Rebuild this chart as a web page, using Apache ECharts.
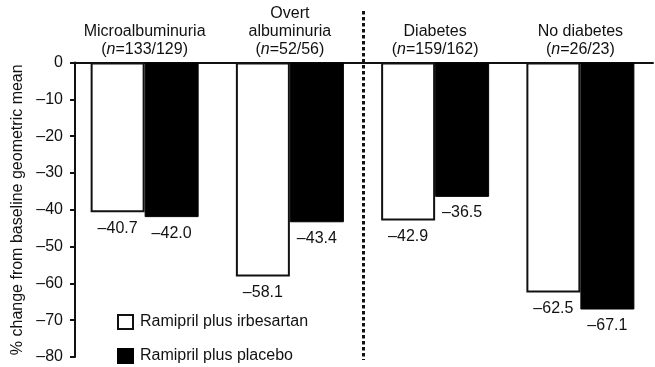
<!DOCTYPE html>
<html><head><meta charset="utf-8">
<script src="https://cdn.jsdelivr.net/npm/echarts@6/dist/echarts.min.js"></script>
<style>html,body{margin:0;padding:0;background:#fff}#c{width:655px;height:367px}</style>
</head><body><div id="c"></div>
<script>
const categories = ['Microalbuminuria', 'Overt\nalbuminuria', 'Diabetes', 'No diabetes'];
const nCounts = ['133/129', '52/56', '159/162', '26/23'];
const irbesartan = [-40.7, -58.1, -42.9, -62.5];
const placebo = [-42.0, -43.4, -36.5, -67.1];
const seriesNames = ['Ramipril plus irbesartan', 'Ramipril plus placebo'];
const yAxisName = '% change from baseline geometric mean';
const yMin = -80, yMax = 0, yInterval = 10;

const FONT = '"Liberation Sans", Arial, sans-serif';
const FS = 16;
const dash = v => String(v).replace('-', '\u2013');
const fmtVal = v => dash(v.toFixed(1));

const chart = echarts.init(document.getElementById('c'));
const labelCommon = {
  show: true, position: 'bottom', distance: 8,
  fontFamily: FONT, fontSize: FS, color: '#111',
  formatter: p => fmtVal(p.value)
};
const legendCommon = {
  orient: 'vertical', left: 117, padding: 0, itemWidth: 15, itemHeight: 14, icon: 'rect', itemGap: 8,
  textStyle: { fontFamily: FONT, fontSize: FS, color: '#111', padding: [0, 0, 0, 2] }
};
chart.setOption({
  animation: false,
  textStyle: { fontFamily: FONT },
  grid: { left: 72, right: 2, top: 62.5, bottom: 10 },
  legend: [
    Object.assign({}, legendCommon, { top: 314, data: [seriesNames[0]] }),
    Object.assign({}, legendCommon, { top: 348, data: [seriesNames[1]] })
  ],
  xAxis: {
    type: 'category', position: 'top', data: categories,
    axisLine: { lineStyle: { color: '#111', width: 2 } },
    axisTick: { show: false },
    axisLabel: {
      margin: 4, interval: 0, color: '#111',
      formatter: (v, i) => {
        const lines = v.split('\n').map(s => '{t|' + s + '}').join('\n');
        return lines + '\n{t|(}{i|n}{t|=' + nCounts[i] + ')}';
      },
      rich: {
        t: { fontFamily: FONT, fontSize: FS, lineHeight: 18, color: '#111' },
        i: { fontFamily: FONT, fontSize: FS, lineHeight: 18, fontStyle: 'italic', color: '#111' }
      }
    }
  },
  yAxis: {
    type: 'value', min: yMin, max: yMax, interval: yInterval, offset: -3,
    name: yAxisName, nameLocation: 'middle', nameGap: 40,
    nameTextStyle: { fontFamily: FONT, fontSize: FS, color: '#111' },
    axisLine: { show: true, lineStyle: { color: '#111', width: 2 } },
    axisTick: { show: true, length: 5, lineStyle: { color: '#111', width: 2 } },
    axisLabel: { fontFamily: FONT, fontSize: FS, color: '#111', margin: 12, formatter: v => dash(v) },
    splitLine: { show: false }
  },
  series: [
    {
      name: seriesNames[0], type: 'bar', data: irbesartan, barWidth: 54, barGap: '0%',
      itemStyle: { color: '#fff', borderColor: '#111', borderWidth: 2 },
      label: labelCommon
    },
    {
      name: seriesNames[1], type: 'bar', data: placebo, barWidth: 54,
      itemStyle: { color: '#000', borderColor: '#000', borderWidth: 1 },
      label: labelCommon
    }
  ]
});
const x1 = chart.convertToPixel({ xAxisIndex: 0 }, 1);
const x2 = chart.convertToPixel({ xAxisIndex: 0 }, 2);
const xm = (x1 + x2) / 2 + 1;
chart.setOption({
  graphic: [{
    type: 'line', shape: { x1: xm, y1: 11, x2: xm, y2: 360 },
    style: { stroke: '#111', lineWidth: 3, lineDash: [3.5, 2.5] }, z: 10
  }]
});
</script></body></html>
